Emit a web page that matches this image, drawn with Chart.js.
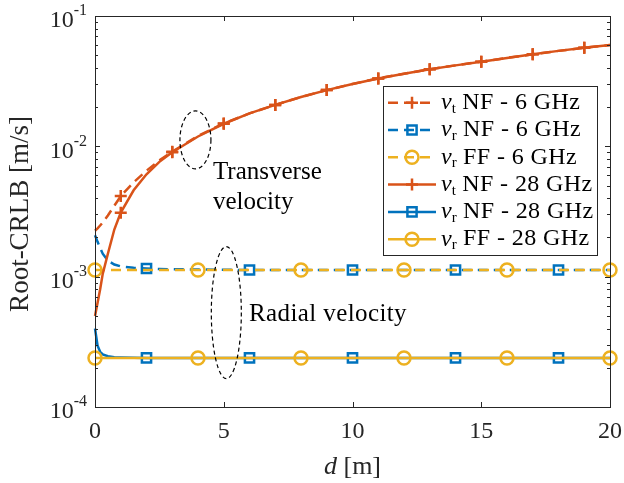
<!DOCTYPE html>
<html>
<head>
<meta charset="utf-8">
<script src="https://cdn.jsdelivr.net/npm/chart.js@4.4.1/dist/chart.umd.min.js"></script>
<style>
html, body { margin: 0; padding: 0; background: #fff; }
canvas { display: block; }
</style>
</head>
<body>
<canvas id="crlb" width="624" height="483"></canvas>
<script>
// distance d [m]
const dNF = [0, 0.1, 0.2, 0.3, 0.5, 0.75, 1, 1.5, 2, 2.5, 3, 4, 5, 6, 7, 8, 9, 10, 11, 12, 13, 14, 15, 16, 17, 18, 19, 20];
const dFF = [0, 2, 4, 6, 8, 10, 12, 14, 16, 18, 20];

// root-CRLB [m/s]
const vtNF6 = [2.25e-3, 2.35e-3, 2.47e-3, 2.6e-3, 2.95e-3, 3.5e-3, 4.15e-3, 5.3e-3, 6.5e-3, 7.8e-3, 9.1e-3, 1.2e-2, 1.5e-2, 1.79e-2, 2.08e-2, 2.39e-2, 2.70e-2, 3.01e-2, 3.32e-2, 3.61e-2, 3.90e-2, 4.18e-2, 4.46e-2, 4.77e-2, 5.08e-2, 5.40e-2, 5.71e-2, 5.98e-2];
const vrNF6 = [2.08e-3, 1.85e-3, 1.66e-3, 1.5e-3, 1.33e-3, 1.24e-3, 1.2e-3, 1.17e-3, 1.155e-3, 1.145e-3, 1.14e-3, 1.135e-3, 1.13e-3, 1.125e-3, 1.125e-3, 1.125e-3, 1.125e-3, 1.125e-3, 1.125e-3, 1.125e-3, 1.125e-3, 1.125e-3, 1.125e-3, 1.125e-3, 1.125e-3, 1.125e-3, 1.125e-3, 1.125e-3];
const vrFF6 = [1.125e-3, 1.125e-3, 1.125e-3, 1.125e-3, 1.125e-3, 1.125e-3, 1.125e-3, 1.125e-3, 1.125e-3, 1.125e-3, 1.125e-3];
const vtNF28 = [5.0e-4, 6.3e-4, 8.0e-4, 1.05e-3, 1.5e-3, 2.3e-3, 3.1e-3, 4.6e-3, 6.1e-3, 7.6e-3, 9.0e-3, 1.19e-2, 1.49e-2, 1.79e-2, 2.08e-2, 2.39e-2, 2.70e-2, 3.01e-2, 3.32e-2, 3.61e-2, 3.90e-2, 4.18e-2, 4.46e-2, 4.77e-2, 5.08e-2, 5.40e-2, 5.71e-2, 5.98e-2];
const vrNF28 = [4.0e-4, 2.95e-4, 2.65e-4, 2.53e-4, 2.45e-4, 2.41e-4, 2.4e-4, 2.39e-4, 2.38e-4, 2.38e-4, 2.38e-4, 2.38e-4, 2.38e-4, 2.38e-4, 2.38e-4, 2.38e-4, 2.38e-4, 2.38e-4, 2.38e-4, 2.38e-4, 2.38e-4, 2.38e-4, 2.38e-4, 2.38e-4, 2.38e-4, 2.38e-4, 2.38e-4, 2.38e-4];
const vrFF28 = [2.38e-4, 2.38e-4, 2.38e-4, 2.38e-4, 2.38e-4, 2.38e-4, 2.38e-4, 2.38e-4, 2.38e-4, 2.38e-4, 2.38e-4];

// where the markers sit
const markVt = [1, 3, 5, 7, 9, 11, 13, 15, 17, 19];
const markVr = [2, 6, 10, 14, 18];
const markFF = [0, 4, 8, 12, 16, 20];

const xTicks = [0, 5, 10, 15, 20];
const yTicks = [1e-4, 1e-3, 1e-2, 1e-1];
const yTickExp = ['-4', '-3', '-2', '-1'];
const legendSub = ['t', 'r', 'r', 't', 'r', 'r'];
const legendText = [' NF - 6 GHz', ' NF - 6 GHz', ' FF - 6 GHz', ' NF - 28 GHz', ' NF - 28 GHz', ' FF - 28 GHz'];

const RED = '#D95319', BLUE = '#0072BD', YEL = '#EDB120';
const SERIF = '"Liberation Serif", "DejaVu Serif", serif';
const DASH = [10, 6];

function series(xs, ys, color, dash, style, marks, radius, order) {
  return {
    data: xs.map((x, i) => ({ x, y: ys[i] })),
    borderColor: color, borderWidth: 2.5, borderDash: dash,
    pointStyle: style, pointBorderColor: color, pointBackgroundColor: 'rgba(0,0,0,0)',
    pointBorderWidth: 2.5, pointHoverRadius: 0,
    pointRadius: ctx => (ctx.raw && marks.includes(ctx.raw.x)) ? radius : 0,
    clip: false, fill: false, tension: 0, order,
    _mark: radius
  };
}

const datasets = [
  series(dNF, vtNF6, RED, DASH, 'cross', markVt, 6, 5),
  series(dNF, vrNF6, BLUE, DASH, 'rect', markVr, 6.5, 4),
  series(dFF, vrFF6, YEL, DASH, 'circle', markFF, 6.5, 3),
  series(dNF, vtNF28, RED, [], 'cross', markVt, 6, 2),
  series(dNF, vrNF28, BLUE, [], 'rect', markVr, 6.5, 1),
  series(dFF, vrFF28, YEL, [], 'circle', markFF, 6.5, 0)
];

function marker(ctx, style, x, y, r) {
  ctx.beginPath();
  if (style === 'cross') {
    ctx.moveTo(x - r, y); ctx.lineTo(x + r, y);
    ctx.moveTo(x, y - r); ctx.lineTo(x, y + r);
  } else if (style === 'rect') {
    const s = r * Math.SQRT1_2;
    ctx.rect(x - s, y - s, 2 * s, 2 * s);
  } else {
    ctx.arc(x, y, r, 0, Math.PI * 2);
  }
  ctx.stroke();
}

const axesPlugin = {
  id: 'axes',
  afterDraw(chart) {
    const { ctx, chartArea: a, scales: { x, y } } = chart;
    ctx.save();
    ctx.strokeStyle = '#262626';
    ctx.lineWidth = 1;
    ctx.setLineDash([]);
    ctx.strokeRect(a.left + 0.5, a.top + 0.5, a.right - a.left, a.bottom - a.top);

    // ticks, pointing inwards
    ctx.beginPath();
    xTicks.forEach(v => {
      const px = Math.round(x.getPixelForValue(v)) + 0.5;
      ctx.moveTo(px, a.bottom); ctx.lineTo(px, a.bottom - 5);
      ctx.moveTo(px, a.top); ctx.lineTo(px, a.top + 5);
    });
    yTicks.forEach((v, i) => {
      const py = Math.round(y.getPixelForValue(v)) + 0.5;
      ctx.moveTo(a.left, py); ctx.lineTo(a.left + 5, py);
      ctx.moveTo(a.right, py); ctx.lineTo(a.right - 5, py);
      if (i < yTicks.length - 1) {
        for (let m = 2; m <= 9; m++) {
          const pm = Math.round(y.getPixelForValue(v * m)) + 0.5;
          ctx.moveTo(a.left, pm); ctx.lineTo(a.left + 3, pm);
          ctx.moveTo(a.right, pm); ctx.lineTo(a.right - 3, pm);
        }
      }
    });
    ctx.stroke();

    // tick labels
    ctx.fillStyle = '#262626';
    ctx.textBaseline = 'middle';
    ctx.textAlign = 'center';
    ctx.font = '24px ' + SERIF;
    xTicks.forEach(v => ctx.fillText(String(v), x.getPixelForValue(v), a.bottom + 25));
    yTicks.forEach((v, i) => {
      const py = y.getPixelForValue(v);
      ctx.textAlign = 'right';
      ctx.font = '16px ' + SERIF;
      ctx.fillText(yTickExp[i], a.left - 8, py - 5);
      const ew = ctx.measureText(yTickExp[i]).width;
      ctx.font = '24px ' + SERIF;
      ctx.fillText('10', a.left - 8 - ew, py + 5);
    });

    // axis titles
    ctx.textAlign = 'left';
    ctx.font = 'italic 26px ' + SERIF;
    const dw = ctx.measureText('d').width;
    ctx.font = '26px ' + SERIF;
    const rw = ctx.measureText(' [m]').width;
    const cx = (a.left + a.right) / 2 - (dw + rw) / 2;
    ctx.font = 'italic 26px ' + SERIF;
    ctx.fillText('d', cx, 467);
    ctx.font = '26px ' + SERIF;
    ctx.fillText(' [m]', cx + dw, 467);

    ctx.save();
    ctx.translate(21, 214);
    ctx.rotate(-Math.PI / 2);
    ctx.textAlign = 'center';
    ctx.font = '27px ' + SERIF;
    ctx.fillText('Root-CRLB [m/s]', 0, 0);
    ctx.restore();

    // annotations
    ctx.strokeStyle = '#000';
    ctx.lineWidth = 1.2;
    ctx.setLineDash([4, 3]);
    [[3.9, 1.12e-2, 15.5, 29], [5.1, 5.3e-4, 15, 66]].forEach(([ex, ey, rx, ry]) => {
      ctx.beginPath();
      ctx.ellipse(x.getPixelForValue(ex), y.getPixelForValue(ey), rx, ry, 0, 0, Math.PI * 2);
      ctx.stroke();
    });
    ctx.setLineDash([]);
    ctx.fillStyle = '#000';
    ctx.font = '25px ' + SERIF;
    ctx.textAlign = 'left';
    ctx.fillText('Transverse', x.getPixelForValue(4.58), y.getPixelForValue(6.35e-3));
    ctx.fillText('velocity', x.getPixelForValue(4.58), y.getPixelForValue(3.74e-3));
    ctx.letterSpacing = '0.4px';
    ctx.fillText('Radial velocity', x.getPixelForValue(5.98), y.getPixelForValue(5.16e-4));

    // legend
    const lx = 383.5, ly = 86.5, lw = 214, lh = 169;
    ctx.fillStyle = '#fff';
    ctx.fillRect(lx, ly, lw, lh);
    ctx.strokeStyle = '#262626';
    ctx.lineWidth = 1;
    ctx.strokeRect(lx, ly, lw, lh);
    datasets.forEach((ds, i) => {
      const ry = 102.7 + i * 27.3;
      ctx.strokeStyle = ds.borderColor;
      ctx.lineWidth = 2.5;
      ctx.setLineDash(ds.borderDash);
      ctx.beginPath();
      ctx.moveTo(388, ry); ctx.lineTo(436, ry);
      ctx.stroke();
      ctx.setLineDash([]);
      marker(ctx, ds.pointStyle, 412, ry, ds._mark);
      ctx.fillStyle = '#000';
      ctx.letterSpacing = '0px';
      ctx.font = 'italic 24px ' + SERIF;
      ctx.fillText('v', 441, ry);
      const vw = ctx.measureText('v').width;
      ctx.font = '15px ' + SERIF;
      ctx.fillText(legendSub[i], 441 + vw, ry + 6);
      const sw = ctx.measureText(legendSub[i]).width;
      ctx.font = '24px ' + SERIF;
      ctx.letterSpacing = '0.4px';
      ctx.fillText(legendText[i], 441 + vw + sw, ry);
    });
    ctx.restore();
  }
};

new Chart(document.getElementById('crlb'), {
  type: 'line',
  data: { datasets },
  options: {
    responsive: false,
    animation: false,
    layout: { padding: { left: 95, right: 14, top: 16, bottom: 76 } },
    plugins: { legend: { display: false }, tooltip: { enabled: false } },
    scales: {
      x: { type: 'linear', min: 0, max: 20, display: false },
      y: { type: 'logarithmic', min: 1e-4, max: 1e-1, display: false }
    }
  },
  plugins: [axesPlugin]
});
</script>
</body>
</html>
